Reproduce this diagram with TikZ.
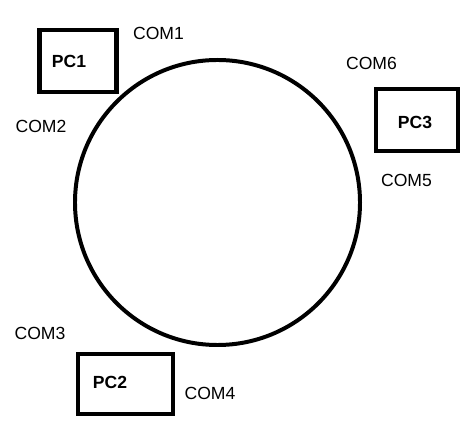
\documentclass[tikz,border=0pt]{standalone}
\usepackage{fontspec}
\setmainfont{Liberation Sans}
\usetikzlibrary{shapes}
\tikzstyle{PcBox}=[rectangle, draw=black, line width=3.6pt, inner sep=0pt]
\tikzstyle{PcName}=[font=\fontsize{15}{18}\selectfont\bfseries, inner sep=0pt]
\tikzstyle{ComName}=[font=\fontsize{15}{18}\selectfont, inner sep=0pt]
\tikzstyle{Ring}=[circle, draw=black, line width=3.4pt, inner sep=0pt, minimum size=8.55cm]

\begin{document}
\begin{tikzpicture}[x=0.03cm, y=-0.03cm]
\useasboundingbox (0,0) rectangle (468,431);
\node[Ring](RING) at (217.5,202.5) {};

\node[PcBox, minimum width=2.31cm, minimum height=1.84cm](BOX1) at (78,61) {};
\node[PcBox, minimum width=2.44cm, minimum height=1.84cm](BOX3) at (417,120) {};
\node[PcBox, minimum width=2.83cm, minimum height=1.78cm](BOX2) at (125.5,384) {};

\node[PcName](PC1) at (69,61.5) {PC1};
\node[PcName](PC3) at (415,122) {PC3};
\node[PcName](PC2) at (110,382.5) {PC2};

\node[ComName](COM1) at (158.5,33) {COM1};
\node[ComName](COM2) at (41,126) {COM2};
\node[ComName](COM3) at (40,333) {COM3};
\node[ComName](COM4) at (210,393.5) {COM4};
\node[ComName](COM5) at (406.5,180) {COM5};
\node[ComName](COM6) at (371.5,63) {COM6};
\end{tikzpicture}
\end{document}
